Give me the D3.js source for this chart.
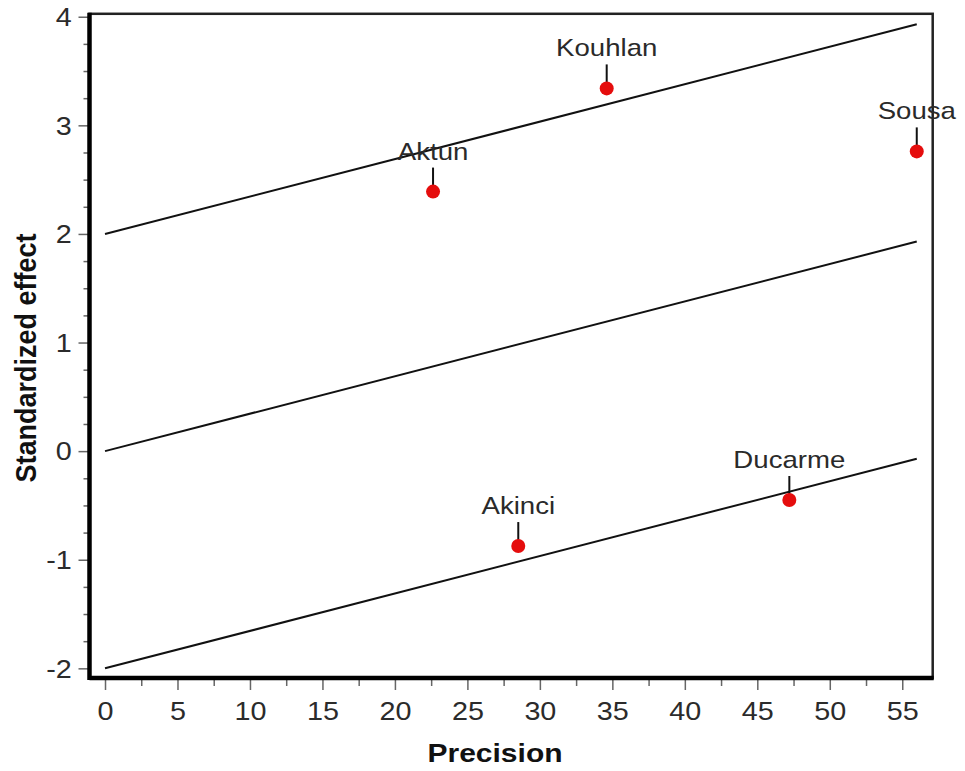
<!DOCTYPE html>
<html>
<head>
<meta charset="utf-8">
<script src="https://cdn.jsdelivr.net/npm/d3@7"></script>
<style>
  html, body { margin: 0; padding: 0; background: #fff; }
  svg { display: block; }
  text { font-family: "Liberation Sans", Arial, sans-serif; }
</style>
</head>
<body>
<svg id="chart" width="965" height="771"></svg>
<script>
// Galbraith plot: standardized effect against precision
const studies   = ["Aktun", "Kouhlan", "Sousa", "Akinci", "Ducarme"];
const precision = [22.63, 34.61, 56.0, 28.51, 47.21];
const zEffect   = [2.39, 3.34, 2.76, -0.874, -0.45];

// Regression line through the origin and its ±2 bands (start and end values)
const lineX     = [0, 56];
const upperLine = [2, 3.93];
const midLine   = [0, 1.93];
const lowerLine = [-2, -0.07];

const xMajorTicks = [0, 5, 10, 15, 20, 25, 30, 35, 40, 45, 50, 55];
const xMinorTicks = [2.5, 7.5, 12.5, 17.5, 22.5, 27.5, 32.5, 37.5, 42.5, 47.5, 52.5];
const yMajorTicks = [-2, -1, 0, 1, 2, 3, 4];
const yMinorTicks = [-1.75, -1.5, -1.25, -0.75, -0.5, -0.25, 0.25, 0.5, 0.75,
                     1.25, 1.5, 1.75, 2.25, 2.5, 2.75, 3.25, 3.5, 3.75];

const svg = d3.select("#chart");

const x = d3.scaleLinear().domain([-1.07, 57.1]).range([89.5, 932.7]);
const y = d3.scaleLinear().domain([-2.089, 4.027]).range([678, 13.8]);

const textStretch = "scale(1.15,1)";
const plainNumber = d => String(d);   // hyphen-minus, as printed by the stats package

// minor ticks
svg.append("g")
  .attr("transform", `translate(0,${y.range()[0]})`)
  .call(d3.axisBottom(x).tickValues(xMinorTicks).tickSize(8).tickFormat(""))
  .call(g => g.select(".domain").remove())
  .call(g => g.selectAll(".tick line").attr("stroke", "#666").attr("stroke-width", 1.5));

svg.append("g")
  .attr("transform", `translate(${x.range()[0]},0)`)
  .call(d3.axisLeft(y).tickValues(yMinorTicks).tickSize(6).tickFormat(""))
  .call(g => g.select(".domain").remove())
  .call(g => g.selectAll(".tick line").attr("stroke", "#666").attr("stroke-width", 1.5));

// major ticks with labels
svg.append("g")
  .attr("transform", `translate(0,${y.range()[0]})`)
  .call(d3.axisBottom(x).tickValues(xMajorTicks).tickSize(12).tickFormat(plainNumber))
  .call(g => g.select(".domain").remove())
  .call(g => g.selectAll(".tick line").attr("stroke", "#666").attr("stroke-width", 1.5))
  .call(g => g.selectAll(".tick text")
      .attr("y", 42).attr("dy", 0)
      .attr("transform", textStretch)
      .attr("fill", "#2b2b2b")
      .style("font-size", "25px"));

svg.append("g")
  .attr("transform", `translate(${x.range()[0]},0)`)
  .call(d3.axisLeft(y).tickValues(yMajorTicks).tickSize(11).tickFormat(plainNumber))
  .call(g => g.select(".domain").remove())
  .call(g => g.selectAll(".tick line").attr("stroke", "#666").attr("stroke-width", 1.5))
  .call(g => g.selectAll(".tick text")
      .attr("x", -15.5).attr("dy", "0.35em")
      .attr("transform", textStretch)
      .attr("fill", "#2b2b2b")
      .style("font-size", "25px"));

// frame
svg.append("rect")
  .attr("x", x.range()[0]).attr("y", y.range()[1])
  .attr("width", x.range()[1] - x.range()[0])
  .attr("height", y.range()[0] - y.range()[1])
  .attr("fill", "none").attr("stroke", "#222").attr("stroke-width", 2.5);

svg.append("line")
  .attr("x1", x.range()[0]).attr("x2", x.range()[0])
  .attr("y1", y.range()[1] - 1).attr("y2", y.range()[0] + 2)
  .attr("stroke", "#000").attr("stroke-width", 4.5);
svg.append("line")
  .attr("x1", x.range()[0]).attr("x2", x.range()[1] + 1)
  .attr("y1", y.range()[0]).attr("y2", y.range()[0])
  .attr("stroke", "#000").attr("stroke-width", 4.5);

// regression line and bands
const line = d3.line().x(d => x(d[0])).y(d => y(d[1]));
[upperLine, midLine, lowerLine].forEach(vals => {
  svg.append("path")
    .datum(lineX.map((xv, i) => [xv, vals[i]]))
    .attr("d", line)
    .attr("fill", "none")
    .attr("stroke", "#111")
    .attr("stroke-width", 2);
});

// studies
const pts = studies.map((s, i) => ({ name: s, px: precision[i], z: zEffect[i] }));

const gPts = svg.append("g");
gPts.selectAll("line.leader").data(pts).join("line")
  .attr("class", "leader")
  .attr("x1", d => x(d.px)).attr("x2", d => x(d.px))
  .attr("y1", d => y(d.z) - 24).attr("y2", d => y(d.z) - 5)
  .attr("stroke", "#111").attr("stroke-width", 2);

gPts.selectAll("circle").data(pts).join("circle")
  .attr("cx", d => x(d.px)).attr("cy", d => y(d.z))
  .attr("r", 7)
  .attr("fill", "#e50d0d");

gPts.selectAll("text").data(pts).join("text")
  .attr("transform", d => `translate(${x(d.px)},${y(d.z) - 32}) ${textStretch}`)
  .attr("text-anchor", "middle")
  .attr("fill", "#2a2a2a")
  .style("font-size", "24px")
  .text(d => d.name);

// axis titles
svg.append("text")
  .attr("transform", `translate(495,762) scale(1.2,1)`)
  .attr("text-anchor", "middle")
  .attr("fill", "#111")
  .style("font-size", "25px")
  .style("font-weight", "bold")
  .text("Precision");

svg.append("text")
  .attr("transform", `translate(36,358) scale(1.1,1) rotate(-90)`)
  .attr("text-anchor", "middle")
  .attr("fill", "#111")
  .style("font-size", "27px")
  .style("font-weight", "bold")
  .text("Standardized effect");
</script>
</body>
</html>
